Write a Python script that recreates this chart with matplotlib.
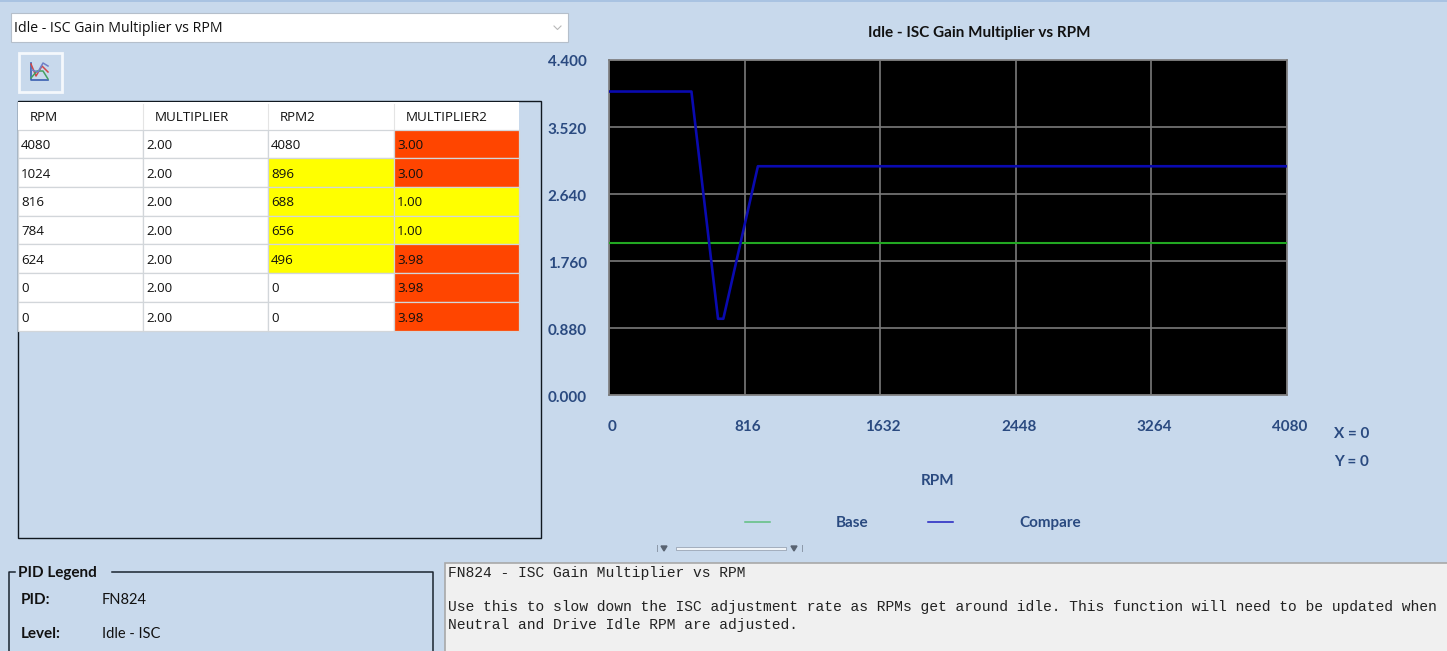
import matplotlib
matplotlib.use("Agg")
import matplotlib.pyplot as plt
from matplotlib.patches import Rectangle
from matplotlib.transforms import ScaledTranslation

# table values
rpm = [4080, 1024, 816, 784, 624, 0, 0]
multiplier = [2.00, 2.00, 2.00, 2.00, 2.00, 2.00, 2.00]
rpm2 = [4080, 896, 688, 656, 496, 0, 0]
multiplier2 = [3.00, 3.00, 1.00, 1.00, 3.98, 3.98, 3.98]
headers = ["RPM", "MULTIPLIER", "RPM2", "MULTIPLIER2"]

# chart values
base_x = [0, 624, 784, 816, 1024, 4080]
base_y = [2.00, 2.00, 2.00, 2.00, 2.00, 2.00]
compare_x = [0, 496, 656, 688, 896, 4080]
compare_y = [3.98, 3.98, 1.00, 1.00, 3.00, 3.00]
x_ticks = [0, 816, 1632, 2448, 3264, 4080]
y_ticks = [0.0, 0.88, 1.76, 2.64, 3.52, 4.4]

title = "Idle - ISC Gain Multiplier vs RPM"
help_lines = [
    "FN824 - ISC Gain Multiplier vs RPM",
    "Use this to slow down the ISC adjustment rate as RPMs get around idle. This function will need to be updated when",
    "Neutral and Drive Idle RPM are adjusted.",
]

W, H = 1447, 651
BG = "#C8D9EC"
NAVY = "#2A4A80"
UI_FONT = "Open Sans"
BOLD_FONT = "Lato"

fig = plt.figure(figsize=(W / 100, H / 100), dpi=100, facecolor=BG)

# whole window in pixel coordinates for the form widgets
ui = fig.add_axes([0, 0, 1, 1])
ui.set_xlim(0, W)
ui.set_ylim(H, 0)
ui.axis("off")


def box(x0, y0, x1, y1, fc="none", ec="none", lw=1.0):
    ui.add_patch(Rectangle((x0, y0), x1 - x0, y1 - y0, fc=fc, ec=ec, lw=lw))


def label(x, y, s, size=9.6, color="#111111", **kw):
    kw.setdefault("family", UI_FONT)
    ui.text(x, y + 1.5, s, fontsize=size, color=color, va="center", **kw)


box(0, 0, W, 2, fc="#A9C3E2")

# combo box
box(11, 13, 568, 42, fc="white", ec="#B5BFCB", lw=0.8)
label(14, 27, title, size=10.2)
ui.plot([554, 557.5, 561], [26, 29.5, 26], color="#B8B8B8", lw=0.8)

# chart button
box(18.5, 53, 62, 92, fc=BG, ec="#F4F8FC", lw=2)
ui.plot([31, 31, 48], [63, 80, 80], color="#3A5FB0", lw=1.2)
ui.plot([31, 36, 42, 48], [64, 76, 66, 72], color="#D04848", lw=1.1)
ui.plot([31, 37, 43, 48], [78, 71, 71, 79], color="#45A060", lw=1.1)
ui.plot([32, 38, 43, 48], [70, 72, 63, 66], color="#7080C8", lw=1.1)

# table
box(17.5, 100.5, 541, 538, ec="#101820", lw=1.0)
col_edges = [18, 143, 268, 394, 519]
row_edges = [130, 158, 187, 216, 244, 273, 302, 331]
box(18, 102, 519, 130, fc="white")
for i, name in enumerate(headers):
    label(col_edges[i] + 11.5, 116, name)
    if i:
        ui.plot([col_edges[i]] * 2, [104, 129], color="#E4E4E4", lw=0.8)


def cell_color(value, reference):
    if value < reference:
        return "#FFFF00"
    if value > reference:
        return "#FF4500"
    return "white"


for r in range(len(rpm)):
    y0, y1 = row_edges[r], row_edges[r + 1]
    cells = [
        (f"{rpm[r]}", "white"),
        (f"{multiplier[r]:.2f}", "white"),
        (f"{rpm2[r]}", cell_color(rpm2[r], rpm[r])),
        (f"{multiplier2[r]:.2f}", cell_color(multiplier2[r], multiplier[r])),
    ]
    for c, (txt, color) in enumerate(cells):
        box(col_edges[c], y0, col_edges[c + 1], y1, fc=color, ec="#D2D6DA", lw=0.9)
        label(col_edges[c] + 3, (y0 + y1) / 2, txt)

# chart
left, right, top, bottom = 609, 1287, 59.5, 395
ax = fig.add_axes([left / W, 1 - bottom / H, (right - left) / W, (bottom - top) / H])
ax.set_facecolor("black")
ax.plot(base_x, base_y, color="#22A822", lw=1.5, label="Base", zorder=3)
ax.plot(compare_x, compare_y, color="#0A0AB0", lw=1.9, label="Compare", zorder=4)
ax.set_xlim(0, 4080)
ax.set_ylim(0, 4.4)
ax.set_xticks(x_ticks)
ax.set_yticks(y_ticks)
ax.set_yticklabels([f"{v:.3f}" for v in y_ticks])
ax.grid(True, color="#7A7A7A", lw=1.2)
ax.set_axisbelow(True)
for s in ax.spines.values():
    s.set_color("#7A7A7A")
    s.set_linewidth(1.2)
ax.tick_params(axis="x", length=0, pad=18, labelcolor=NAVY, labelsize=11)
ax.tick_params(axis="y", length=0, pad=16, labelcolor=NAVY, labelsize=11)
for t in ax.get_xticklabels() + ax.get_yticklabels():
    t.set_family(BOLD_FONT)
    t.set_fontweight("bold")
x_shift = ScaledTranslation(3 / 100, 0, fig.dpi_scale_trans)
y_shift = ScaledTranslation(0, -1.5 / 100, fig.dpi_scale_trans)
for t in ax.get_xticklabels():
    t.set_transform(t.get_transform() + x_shift)
for t in ax.get_yticklabels():
    t.set_transform(t.get_transform() + y_shift)

ax.set_xlabel("RPM", family=BOLD_FONT, fontweight="bold", fontsize=11, color=NAVY,
              labelpad=29, x=0.485)
fig.text(979 / W, 1 - 32.5 / H, title, family=BOLD_FONT, fontweight="bold", fontsize=11,
         color="#111111", ha="center", va="center")
leg = ax.legend(ncols=2, frameon=False, loc="center", bbox_to_anchor=(913 / W, 1 - 523 / H),
                bbox_transform=fig.transFigure, handlelength=1.63, handletextpad=4.3,
                columnspacing=3.9, prop={"family": BOLD_FONT, "weight": "bold", "size": 11})
for t in leg.get_texts():
    t.set_color(NAVY)
for h, c in zip(leg.get_lines(), ["#5FBF7F", "#2020C0"]):
    h.set_linewidth(1.1)
    h.set_color(c)

label(1334, 432, "X = 0", size=11, color=NAVY, family=BOLD_FONT, fontweight="bold")
label(1334, 460, "Y = 0", size=11, color=NAVY, family=BOLD_FONT, fontweight="bold")

# little splitter under the chart
ui.plot([657, 657], [545, 551], color="#8C98A8", lw=0.7)
ui.plot([802, 802], [545, 551], color="#8C98A8", lw=0.7)
ui.fill([661, 667, 664], [546, 546, 551], color="#5A6472")
ui.fill([791, 797, 794], [546, 546, 551], color="#5A6472")
box(676, 547, 786, 549.5, fc="#F0F4F8", ec="#8C98A8", lw=0.5)

# PID legend group
ui.plot([15, 9, 9], [572, 572, H], color="#1A2430", lw=1.1)
ui.plot([112, 433, 433], [572, 572, H], color="#1A2430", lw=1.1)
label(18, 572, "PID Legend", size=11, family=BOLD_FONT, fontweight="bold")
label(21, 599, "PID:", size=11, family=BOLD_FONT, fontweight="bold")
label(102, 599, "FN824", size=10.5, family=BOLD_FONT)
label(21, 633, "Level:", size=11, family=BOLD_FONT, fontweight="bold")
label(102, 633, "Idle - ISC", size=10.5, family=BOLD_FONT)

# description box
box(445, 563, W + 2, H + 2, fc="#F0F0F0", ec="#A8A8A8", lw=1.2)
for y, line in zip([572, 606, 624], help_lines):
    label(448, y, line, size=10.56, family="Liberation Mono", color="#222222")

fig.savefig("out.png", dpi=100, facecolor=BG)
